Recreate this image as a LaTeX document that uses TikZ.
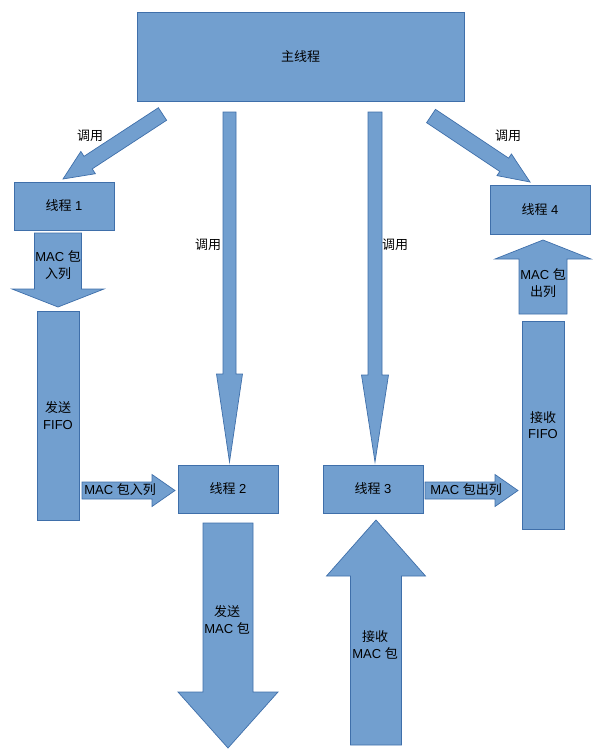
\documentclass[tikz,border=0pt]{standalone}
\usepackage{fontspec}
\setmainfont{Liberation Sans}
\newfontfamily\cjkfont{Noto Sans CJK SC}
\newcommand\zh[1]{{\cjkfont #1}}
\usetikzlibrary{calc}
\definecolor{boxfill}{HTML}{729FCF}
\definecolor{boxline}{HTML}{3F6FAA}
\tikzset{
	box/.style={draw=boxline, fill=boxfill, line width=0.7pt, inner sep=0pt, align=center},
	blockarrow/.style={draw=boxline, fill=boxfill, line width=0.7pt, line join=miter},
	lbl/.style={inner sep=0pt, align=center}
}
% name, tail, tip, shaft half width, head half width, head length
\newcommand\blockarrow[6]{%
	\coordinate (#1-b) at ($(#3)!#6pt!(#2)$);
	\draw[blockarrow] ($(#2)!#4pt!90:(#3)$) -- ($(#1-b)!#4pt!90:(#3)$) -- ($(#1-b)!#5pt!90:(#3)$) -- (#3)
		-- ($(#1-b)!#5pt!-90:(#3)$) -- ($(#1-b)!#4pt!-90:(#3)$) -- ($(#2)!#4pt!-90:(#3)$) -- cycle;
}
\begin{document}
\begin{tikzpicture}[x=1pt, y=-1pt, font=\fontsize{13}{16.5}\selectfont]
	\useasboundingbox (0,0) rectangle (600,755);
	
	% khung chính
	\node[box, minimum width=327pt, minimum height=89pt] (main) at (300.5,56.5) {\zh{主线程}};
	\node[box, minimum width=100pt, minimum height=48pt] (t1) at (64,206) {\zh{线程} 1};
	\node[box, minimum width=100pt, minimum height=49pt] (t4) at (540,209.5) {\zh{线程} 4};
	\node[box, minimum width=100pt, minimum height=48pt] (t2) at (228,489) {\zh{线程} 2};
	\node[box, minimum width=100pt, minimum height=48pt] (t3) at (373,489) {\zh{线程} 3};
	\node[box, minimum width=42pt, minimum height=209pt] (txfifo) at (58,415.5) {\zh{发送}\\FIFO};
	\node[box, minimum width=42pt, minimum height=208pt] (rxfifo) at (543,425) {\zh{接收}\\FIFO};
	
	% điểm đầu, điểm cuối của mũi tên
	\coordinate (c1a) at (162.5,114); \coordinate (c1b) at (63,179);
	\coordinate (c4a) at (431,116);   \coordinate (c4b) at (530,182);
	\coordinate (c2a) at (229.5,112); \coordinate (c2b) at (229.5,462);
	\coordinate (c3a) at (375,112);   \coordinate (c3b) at (375,462);
	\coordinate (inqa) at (58,233);   \coordinate (inqb) at (58,307);
	\coordinate (txa) at (82,490.5);  \coordinate (txb) at (175,490.5);
	\coordinate (rxa) at (425,490.5); \coordinate (rxb) at (518,490.5);
	\coordinate (outqa) at (543,314); \coordinate (outqb) at (543,240);
	\coordinate (senda) at (228,523); \coordinate (sendb) at (228,748);
	\coordinate (recva) at (376,745); \coordinate (recvb) at (376,520);
	
	% mũi tên khối
	\blockarrow{c1}{c1a}{c1b}{7.5}{13.3}{30}
	\blockarrow{c4}{c4a}{c4b}{8}{13}{31}
	\blockarrow{c2}{c2a}{c2b}{6.5}{13}{88}
	\blockarrow{c3}{c3a}{c3b}{7}{13.5}{87}
	\blockarrow{inq}{inqa}{inqb}{23.5}{46}{18}
	\blockarrow{tx}{txa}{txb}{8.5}{16}{23}
	\blockarrow{rx}{rxa}{rxb}{8.5}{16}{23}
	\blockarrow{outq}{outqa}{outqb}{24}{48}{19}
	\blockarrow{send}{senda}{sendb}{25}{50}{56}
	\blockarrow{recv}{recva}{recvb}{25.5}{49.5}{56}
	
	% nhãn
	\foreach \n/\x/\y in {l1/90/136, l4/508/136, l2/208/245, l3/395/245}
		\node[lbl] (\n) at (\x,\y) {\zh{调用}};
	\node[lbl] (inql) at (58,265) {MAC \zh{包}\\\zh{入列}};
	\node[lbl] (outql) at (543,283) {MAC \zh{包}\\\zh{出列}};
	\node[lbl] (txl) at (120,490) {MAC \zh{包入列}};
	\node[lbl] (rxl) at (466,490) {MAC \zh{包出列}};
	\node[lbl] (sendl) at (227,620) {\zh{发送}\\MAC \zh{包}};
	\node[lbl] (recvl) at (375,645) {\zh{接收}\\MAC \zh{包}};
\end{tikzpicture}
\end{document}
